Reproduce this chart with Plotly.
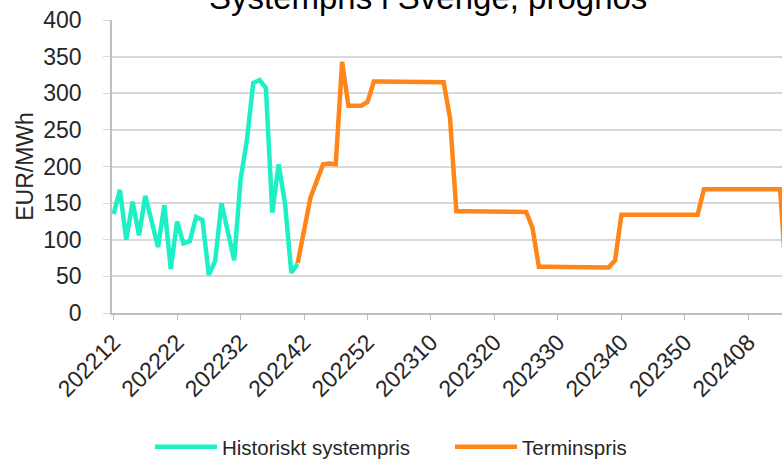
import plotly.graph_objects as go

# Categories: ISO week labels (YYYYWW)
weeks = ([f"2022{w:02d}" for w in range(12, 53)]
         + [f"2023{w:02d}" for w in range(1, 53)]
         + [f"2024{w:02d}" for w in range(1, 15)])

tick_labels = ["202212", "202222", "202232", "202242", "202252",
               "202310", "202320", "202330", "202340", "202350", "202408"]

# Historiskt systempris (EUR/MWh), weeks 202212..202241
hist_values = [135, 168, 100, 152, 106, 160, 125, 90, 147, 60,
               125, 95, 98, 131, 127, 52, 71, 150, 111, 72,
               182, 236, 314, 318, 307, 137, 203, 150, 55, 67]

# Terminspris (EUR/MWh), weeks 202241..
term_values = [68, 112, 157, 180, 203, 204, 203, 343, 283, 283,
               283, 288, 316, 316, 316, 316, 316, 315, 315, 315,
               315, 315, 315, 315, 266, 139, 139, 139, 139, 139,
               139, 138, 138, 138, 138, 138, 138, 116, 63, 63,
               63, 63, 63, 62, 62, 62, 62, 62, 62, 62,
               72, 134, 134, 134, 134, 134, 134, 134, 134, 134,
               134, 134, 134, 134, 169, 169, 169, 169, 169, 169,
               169, 169, 169, 169, 169, 169, 169, 40]

hist_x = weeks[:len(hist_values)]
term_start = len(hist_values) - 1
term_x = weeks[term_start:term_start + len(term_values)]

TEAL = "#1CF0C4"
ORANGE = "#FF8519"
TXT = "#262626"
FONT = "Liberation Sans, Arial, sans-serif"

fig = go.Figure()
fig.add_trace(go.Scatter(x=hist_x, y=hist_values, mode="lines",
                         name="Historiskt systempris",
                         line=dict(color=TEAL, width=4.5)))
fig.add_trace(go.Scatter(x=term_x, y=term_values, mode="lines",
                         name="Terminspris",
                         line=dict(color=ORANGE, width=4.5)))

W, H = 782, 460
ml, mr, mt, mb = 112, 0, 20, 147
pw = W - ml - mr
ph = H - mt - mb

fig.update_layout(
    width=W, height=H,
    margin=dict(l=ml, r=mr, t=mt, b=mb, pad=0, autoexpand=False),
    paper_bgcolor="white", plot_bgcolor="white",
    font=dict(family=FONT, color=TXT, size=23),
    showlegend=True,
    legend=dict(orientation="h", x=(150 - ml) / pw, xanchor="left",
                y=(mt + ph - 447) / ph, yanchor="middle",
                font=dict(size=20.5, color=TXT), itemwidth=62,
                entrywidth=223, entrywidthmode="pixels",
                bgcolor="rgba(0,0,0,0)"),
    annotations=[dict(text="Systempris i Sverige, prognos",
                      xref="paper", yref="paper",
                      x=(428 - ml) / pw, y=1 + 22 / ph,
                      xanchor="center", yanchor="middle",
                      showarrow=False,
                      font=dict(size=33, color="#000000", family=FONT))],
)

fig.update_xaxes(
    type="category", categoryorder="array", categoryarray=weeks,
    range=[-0.25, 105.3], automargin=False,
    tickmode="array", tickvals=tick_labels, ticktext=tick_labels,
    tickangle=-45, ticks="outside", ticklen=5, tickcolor="#BFBFBF",
    showline=True, linecolor="#BFBFBF", linewidth=1.5,
    showgrid=False, zeroline=False,
    tickfont=dict(size=23, color=TXT, family=FONT),
)
fig.update_yaxes(
    range=[0, 400], dtick=50, tick0=0, automargin=False,
    ticks="outside", ticklen=7, tickcolor="#D9D9D9",
    showline=True, linecolor="#BFBFBF", linewidth=1.5,
    showgrid=True, gridcolor="#D9D9D9", gridwidth=1.5,
    zeroline=False,
    ticklabelstandoff=17,
    tickfont=dict(size=23, color=TXT, family=FONT),
    title=dict(text="EUR/MWh", standoff=3,
               font=dict(size=23, color=TXT, family=FONT)),
)

fig.write_html("out.html",
               config={"displayModeBar": False},
               post_script="document.body.style.margin='0';"
                           "document.body.style.overflow='hidden';")
